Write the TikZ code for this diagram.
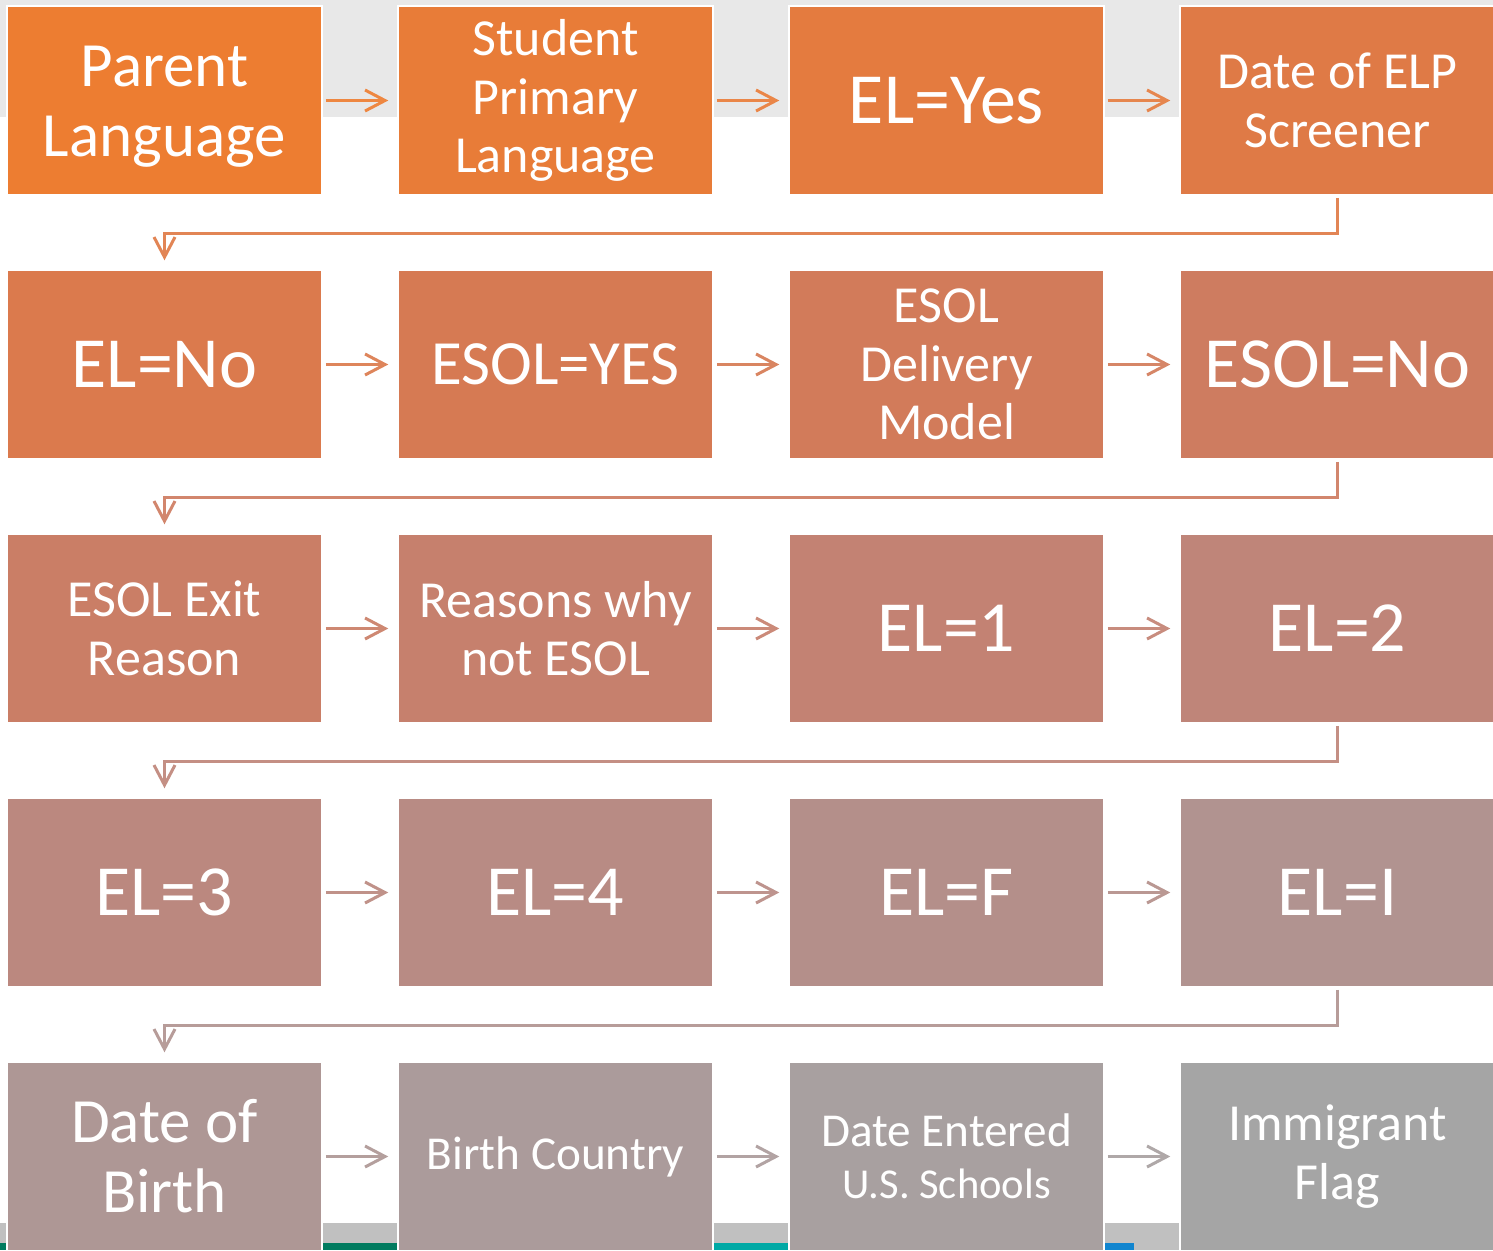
\documentclass[tikz,border=0pt]{standalone}
\usepackage{fontspec}
\setmainfont{Carlito}
\usetikzlibrary{arrows.meta}
% fill colours of the twenty steps, running from orange to grey
\definecolor{c1}{RGB}{237,125,49}
\definecolor{c2}{RGB}{232,124,56}
\definecolor{c3}{RGB}{228,123,63}
\definecolor{c4}{RGB}{223,122,70}
\definecolor{c5}{RGB}{219,122,77}
\definecolor{c6}{RGB}{214,122,83}
\definecolor{c7}{RGB}{210,123,90}
\definecolor{c8}{RGB}{206,124,96}
\definecolor{c9}{RGB}{202,126,102}
\definecolor{c10}{RGB}{198,128,109}
\definecolor{c11}{RGB}{195,130,115}
\definecolor{c12}{RGB}{191,133,121}
\definecolor{c13}{RGB}{187,136,127}
\definecolor{c14}{RGB}{184,139,132}
\definecolor{c15}{RGB}{180,143,138}
\definecolor{c16}{RGB}{177,147,144}
\definecolor{c17}{RGB}{174,151,149}
\definecolor{c18}{RGB}{171,155,155}
\definecolor{c19}{RGB}{168,160,160}
\definecolor{c20}{RGB}{165,165,165}
\definecolor{bandgrey}{RGB}{232,232,232}
\definecolor{stripgrey}{RGB}{192,192,192}
\definecolor{stripgreen}{RGB}{0,123,95}
\definecolor{stripteal}{RGB}{0,169,165}
\definecolor{stripblue}{RGB}{17,133,207}
\begin{document}
\begin{tikzpicture}[x=0.5pt,y=-0.5pt,
  box/.style={draw=white, line width=0.75pt, minimum width=157.5pt,
    minimum height=94.5pt, inner sep=0pt, align=center, text=white},
  fbig/.style={font=\fontsize{36}{40}\selectfont},
  fmidbig/.style={font=\fontsize{31.5}{35}\selectfont},
  fmid/.style={font=\fontsize{26}{29.3}\selectfont},
  fsmall/.style={font=\fontsize{23.6}{26.2}\selectfont},
  conn/.style={line width=1.5pt,
    -{Straight Barb[length=10pt,width=10.5pt]},
    shorten <=1.5pt, shorten >=4.5pt},
]
\useasboundingbox (0,0) rectangle (1493,1250);
\clip (0,0) rectangle (1493,1250);

% backdrop: grey band on top, footer strip below
\fill[white] (0,0) rectangle (1493,1250);
\fill[bandgrey] (0,0) rectangle (1493,117);
\fill[stripgrey] (0,1223) rectangle (1493,1250);
\fill[stripgreen] (0,1243) rectangle (560,1250);
\fill[stripteal] (560,1243) rectangle (1000,1250);
\fill[stripblue] (1000,1243) rectangle (1134,1250);

% row 1
\node[box, fill=c1, fmidbig] (b1) at (164.5,100.5) {\rule{0pt}{26pt}Parent\\Language};
\node[box, fill=c2, fmid] (b2) at (555.5,100.5) {Student\\Primary\\Language};
\node[box, fill=c3, fbig] (b3) at (946.5,100.5) {EL=Yes};
\node[box, fill=c4, fmid] (b4) at (1337.5,100.5) {Date of ELP\\Screener};
% row 2
\node[box, fill=c5, fbig] (b5) at (164.5,364.5) {EL=No};
\node[box, fill=c6, fmidbig] (b6) at (555.5,364.5) {ESOL=YES};
\node[box, fill=c7, fmid] (b7) at (946.5,364.5) {ESOL\\Delivery\\Model};
\node[box, fill=c8, fbig] (b8) at (1337.5,364.5) {ESOL=No};
% row 3
\node[box, fill=c9, fmid] (b9) at (164.5,628.5) {ESOL Exit\\Reason};
\node[box, fill=c10, fmid] (b10) at (555.5,628.5) {Reasons why\\not ESOL};
\node[box, fill=c11, fbig] (b11) at (946.5,628.5) {EL=1};
\node[box, fill=c12, fbig] (b12) at (1337.5,628.5) {EL=2};
% row 4
\node[box, fill=c13, fbig] (b13) at (164.5,892.5) {EL=3};
\node[box, fill=c14, fbig] (b14) at (555.5,892.5) {EL=4};
\node[box, fill=c15, fbig] (b15) at (946.5,892.5) {EL=F};
\node[box, fill=c16, fbig] (b16) at (1337.5,892.5) {EL=I};
% row 5
\node[box, fill=c17, fmidbig] (b17) at (164.5,1156.5) {Date of\\Birth};
\node[box, fill=c18, fsmall] (b18) at (555.5,1156.5) {Birth Country};
\node[box, fill=c19, fsmall] (b19) at (946.5,1156.5) {Date Entered\\{\fontsize{21.3}{24}\selectfont U.S. Schools}};
\node[box, fill=c20, fmid] (b20) at (1337.5,1156.5) {Immigrant\\Flag};

% arrows along each row
\foreach \a/\b in {1/2,2/3,3/4,5/6,6/7,7/8,9/10,10/11,11/12,13/14,14/15,15/16,17/18,18/19,19/20}
  \draw[conn, draw=c\a!92!white] (b\a.east) -- (b\b.west);

% bent arrows from the end of one row to the start of the next
\foreach \a/\b in {4/5,8/9,12/13,16/17}
  \draw[conn, draw=c\a!92!white, shorten <=1pt] (b\a.south) -- ++(0,37.5) -| (b\b.north);
\end{tikzpicture}
\end{document}
